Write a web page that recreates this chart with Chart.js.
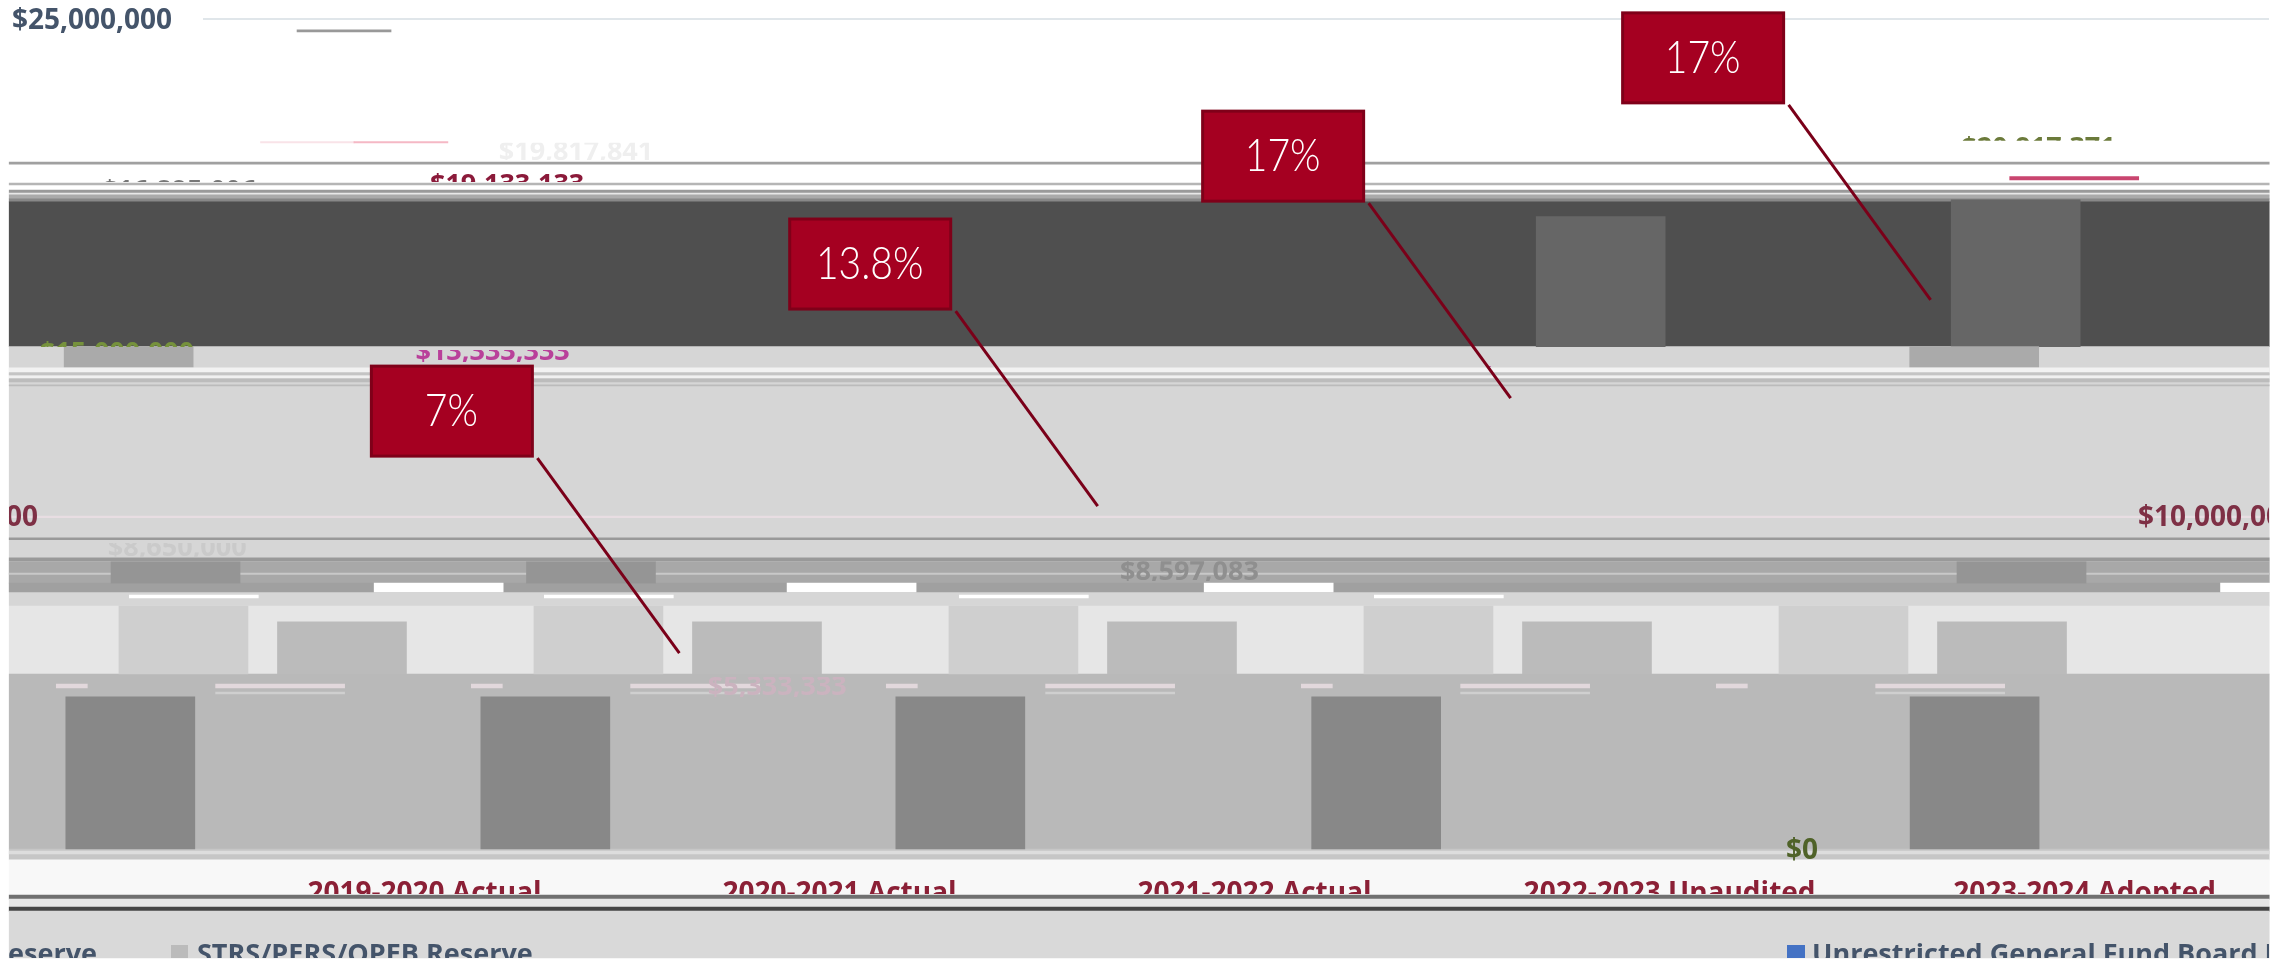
<!DOCTYPE html>
<html>
<head>
<meta charset="utf-8">
<script src="https://cdn.jsdelivr.net/npm/chart.js@4"></script>
<style>
body { margin: 0; background: #fff; }
canvas { display: block; }
</style>
</head>
<body>
<canvas id="myChart" width="2295" height="964"></canvas>
<script>
//data
const categories = ['2019-2020 Actual', '2020-2021 Actual', '2021-2022 Actual', '2022-2023 Unaudited', '2023-2024 Adopted'];
const tickValues = [25000000, 10000000, 0];
const tickLabels = ['$25,000,000', '$10,000,000', '$0'];

const upperTops = [null, null, null, 19.05e6, 19.55e6];
const boardTops = [15.13e6, null, null, null, 15.13e6];
const boardFloor = 14.52e6;
const strsTops = [8.65e6, 8.65e6, null, null, 8.65e6];
const strsFloor = 8.01e6;
const gapTops = [8.01e6, 8.01e6, 8.01e6, null, 8.01e6];
const gapFloor = 7.74e6;
const columnTops = [7.32e6, 7.32e6, 7.32e6, 7.32e6, 7.32e6];
const midTops = [6.84e6, 6.84e6, 6.84e6, 6.84e6, 6.84e6];
const midFloor = 5.27e6;
const baseTops = [4.58e6, 4.58e6, 4.58e6, 4.58e6, 4.58e6];

//slices across the whole chart, high / low / colour
const sliceHigh = [20.69e6, 20.06e6, 19.85e6, 19.76e6, 19.7e6, 19.58e6, 19.49e6, 15.13e6, 14.49e6, 14.34e6, 14.25e6, 14.16e6, 13.98e6, 10.03e6, 9.37e6, 8.77e6, 8.65e6, 8.31e6, 8.01e6, 7.32e6, 5.27e6, 0, -0.06e6, -0.33e6, -1.39e6, -1.51e6, -1.75e6, -1.87e6];
const sliceLow = [20.63e6, 20e6, 19.76e6, 19.7e6, 19.58e6, 19.49e6, 15.13e6, 7.32e6, 14.37e6, 14.28e6, 14.19e6, 14.07e6, 13.95e6, 9.98e6, 9.32e6, 8.67e6, 8.01e6, 8.27e6, 7.74e6, 5.27e6, 0, -0.33e6, -0.15e6, -1.39e6, -1.51e6, -1.75e6, -1.87e6, -3.28e6];
const sliceColors = ['#a0a0a0', '#b5b5b5', '#9a9a9a', '#e8e8e8', '#aaaaaa', '#888888', '#4f4f4f', '#d6d6d6', '#f2f2f2', '#c4c4c4', '#f0f0f0', '#bcbcbc', '#bbbbbb', '#e8dde2', '#999999', '#999999', '#a8a8a8', '#c8c8c8', '#a0a0a0', '#e6e6e6', '#b9b9b9', '#c6c6c6', '#dddddd', '#f8f8f8', '#707070', '#e6e6e6', '#454545', '#d9d9d9'];

//value labels, each one only partly visible
const labelTexts = ['$15,000,000', '$13,333,333', '$5,333,333', '$8,650,000', '$8,597,083', '$14,631,497', '$20,917,371', '$19,133,133', '$16,895,006', '$19,817,841'];
const labelCats = [-0.575, 0.33, 1.016, -0.43, 2.009, 2.9, 4.055, 0.365, -0.425, 0.531];
const labelValues = [14.7e6, 14.73e6, 4.64e6, 8.83e6, 8.1e6, 13.95e6, 20.87e6, 19.76e6, 19.58e6, 20.75e6];
const labelClipHigh = [15.33e6, 15.03e6, 5.18e6, 9.22e6, 8.67e6, 14.7e6, 21.5e6, 20.39e6, 20.21e6, 21.27e6];
const labelClipLow = [15.12e6, 14.67e6, 4.58e6, 8.8e6, 8.07e6, 14.52e6, 21.33e6, 20.09e6, 20.09e6, 20.75e6];
const labelColors = ['#76923c', '#b9409a', '#cbb3bf', '#cacaca', '#8f8f8f', '#b9409a', '#6b7a3a', '#8b1a3a', '#777777', '#efefef'];

//callouts
const calloutTexts = ['7%', '13.8%', '17%', '17%'];
const calloutCats = [0.78, 1.788, 2.783, 3.795];
const calloutValues = [5.9e6, 10.33e6, 13.58e6, 16.54e6];

const xMin = -0.857, xMax = 4.673, yMin = -3.464e6, yMax = 25.572e6;
const xMiddle = 1.888;

function slice(high, low, color, width, x) {
    return { data: [{ x: x, y: [low, high] }], backgroundColor: color, barThickness: width };
}
function column(tops, floor, color, shifts, width) {
    const points = [];
    tops.forEach((top, i) => {
        if (top !== null) points.push({ x: i + shifts[i], y: [floor, top] });
    });
    return { data: points, backgroundColor: color, barThickness: width || 129 };
}
const same = (v) => [v, v, v, v, v];

const datasets = [];
sliceHigh.forEach((high, i) => datasets.push(slice(high, sliceLow[i], sliceColors[i], 2260, xMiddle)));
datasets.push(slice(24.67e6, 24.61e6, '#999999', 94, -0.028));
datasets.push(slice(21.31e6, 21.27e6, '#f9e3e8', 94, -0.116));
datasets.push(slice(21.31e6, 21.27e6, '#f5b8c5', 94, 0.109));
datasets.push(slice(20.25e6, 20.15e6, '#c9456f', 129, 4.141));
datasets.push(column(upperTops, 15.13e6, '#666666', same(0)));
datasets.push(column(boardTops, boardFloor, '#aaaaaa', [-0.547, 0, 0, 0, -0.1]));
datasets.push(column(strsTops, strsFloor, '#959595', [-0.434, -0.433, 0, 0, 0.014]));
datasets.push(column(gapTops, gapFloor, '#ffffff', [0.2, 0.195, 0.2, 0, 0.649]));
datasets.push(column([7.65e6, 7.65e6, 7.65e6, 7.65e6, null], 7.56e6, '#ffffff', same(-0.39)));
datasets.push(column(columnTops, midFloor, '#cfcfcf', same(-0.415)));
datasets.push(column(midTops, midFloor, '#bbbbbb', same(-0.033)));
datasets.push(column(same(4.97e6), 4.85e6, '#e2d8dc', same(-0.182)));
datasets.push(column(same(4.97e6), 4.85e6, '#e2d8dc', same(-0.684), 31));
datasets.push(column(same(4.73e6), 4.67e6, '#cfcfcf', same(-0.182)));
datasets.push(column(baseTops, 0, '#888888', [-0.543, -0.543, -0.543, -0.541, -0.099]));
datasets.forEach((d, i) => { d.order = -i; d.grouped = false; d.borderWidth = 0; });

function clippedText(ctx, text, x, y, font, color, left, top, right, bottom, align) {
    ctx.save();
    ctx.beginPath();
    ctx.rect(left, top, right - left, bottom - top);
    ctx.clip();
    ctx.font = font;
    ctx.fillStyle = color;
    ctx.textAlign = align || 'left';
    ctx.textBaseline = 'alphabetic';
    ctx.fillText(text, x, y);
    ctx.restore();
}

const drawTexts = {
    id: 'drawTexts',
    afterDatasetsDraw(chart) {
        const ctx = chart.ctx;
        const xs = chart.scales.x, ys = chart.scales.y;
        const axisFont = 'bold 28px "Open Sans"';
        const labelFont = 'bold 27px "Open Sans"';

        //gridline on top
        ctx.fillStyle = '#e0e6ea';
        ctx.fillRect(203, ys.getPixelForValue(tickValues[0]) - 1, 2066, 2);

        //axis labels
        clippedText(ctx, tickLabels[0], 12, ys.getPixelForValue(tickValues[0]) + 10, axisFont, '#44546a', 0, 0, 2295, 964);
        const tenY = ys.getPixelForValue(tickValues[1]) + 9;
        clippedText(ctx, tickLabels[1], 2138, tenY, axisFont, '#7e3045', 9, 0, 2269, 964);
        clippedText(ctx, tickLabels[1], -122, tenY, axisFont, '#7e3045', 9, 0, 2269, 964);
        clippedText(ctx, tickLabels[2], 1786, ys.getPixelForValue(tickValues[2]) + 10, axisFont, '#4f6228', 0, 830, 2295, 862);

        //value labels
        labelTexts.forEach((text, i) => {
            clippedText(ctx, text, xs.getPixelForValue(labelCats[i]), ys.getPixelForValue(labelValues[i]), labelFont, labelColors[i],
                0, ys.getPixelForValue(labelClipHigh[i]), 2295, ys.getPixelForValue(labelClipLow[i]), 'center');
        });

        //category labels, cut by the band below them
        categories.forEach((text, i) => {
            clippedText(ctx, text, xs.getPixelForValue(i + 0.166), ys.getPixelForValue(-1.6e6), 'bold 28px "Open Sans"', '#8b2036',
                0, 870, 2295, 894, 'center');
        });

        //legend
        const legendY = ys.getPixelForValue(-3.43e6);
        clippedText(ctx, 'Reserve', 97, legendY, labelFont, '#44546a', 9, 900, 2269, 958, 'right');
        ctx.fillStyle = '#bbbbbb';
        ctx.fillRect(171, 945, 17, 13);
        clippedText(ctx, 'STRS/PERS/OPEB Reserve', 197, legendY, labelFont, '#44546a', 9, 900, 2269, 958);
        ctx.fillStyle = '#4472c4';
        ctx.fillRect(1787, 945, 18, 13);
        clippedText(ctx, 'Unrestricted General Fund Board Reserve', 1812, legendY, labelFont, '#44546a', 9, 900, 2269, 958);

        //callouts
        calloutTexts.forEach((text, i) => {
            const ex = xs.getPixelForValue(calloutCats[i]);
            const ey = ys.getPixelForValue(calloutValues[i]);
            ctx.strokeStyle = '#7a0019';
            ctx.lineWidth = 3;
            ctx.beginPath();
            ctx.moveTo(ex - 142, ey - 195);
            ctx.lineTo(ex, ey);
            ctx.stroke();
            ctx.fillStyle = '#a50021';
            ctx.strokeStyle = '#7f0019';
            ctx.fillRect(ex - 308, ey - 287, 161, 90);
            ctx.strokeRect(ex - 308, ey - 287, 161, 90);
            ctx.save();
            ctx.translate(ex - 228, ey - 242);
            ctx.scale(0.85, 1);
            ctx.fillStyle = '#ffffff';
            ctx.font = '300 46px Lato';
            ctx.textAlign = 'center';
            ctx.textBaseline = 'middle';
            ctx.fillText(text, 0, 0);
            ctx.restore();
        });
    }
};

const ctx = document.getElementById('myChart').getContext('2d');
const myChart = new Chart(ctx, {
    type: 'bar',
    data: { datasets: datasets },
    options: {
        responsive: false,
        animation: false,
        devicePixelRatio: 1,
        layout: { padding: 0 },
        plugins: { legend: { display: false }, tooltip: { enabled: false } },
        scales: {
            x: { type: 'linear', offset: false, min: xMin, max: xMax, display: false },
            y: { min: yMin, max: yMax, display: false }
        }
    },
    plugins: [drawTexts]
});
</script>
</body>
</html>
